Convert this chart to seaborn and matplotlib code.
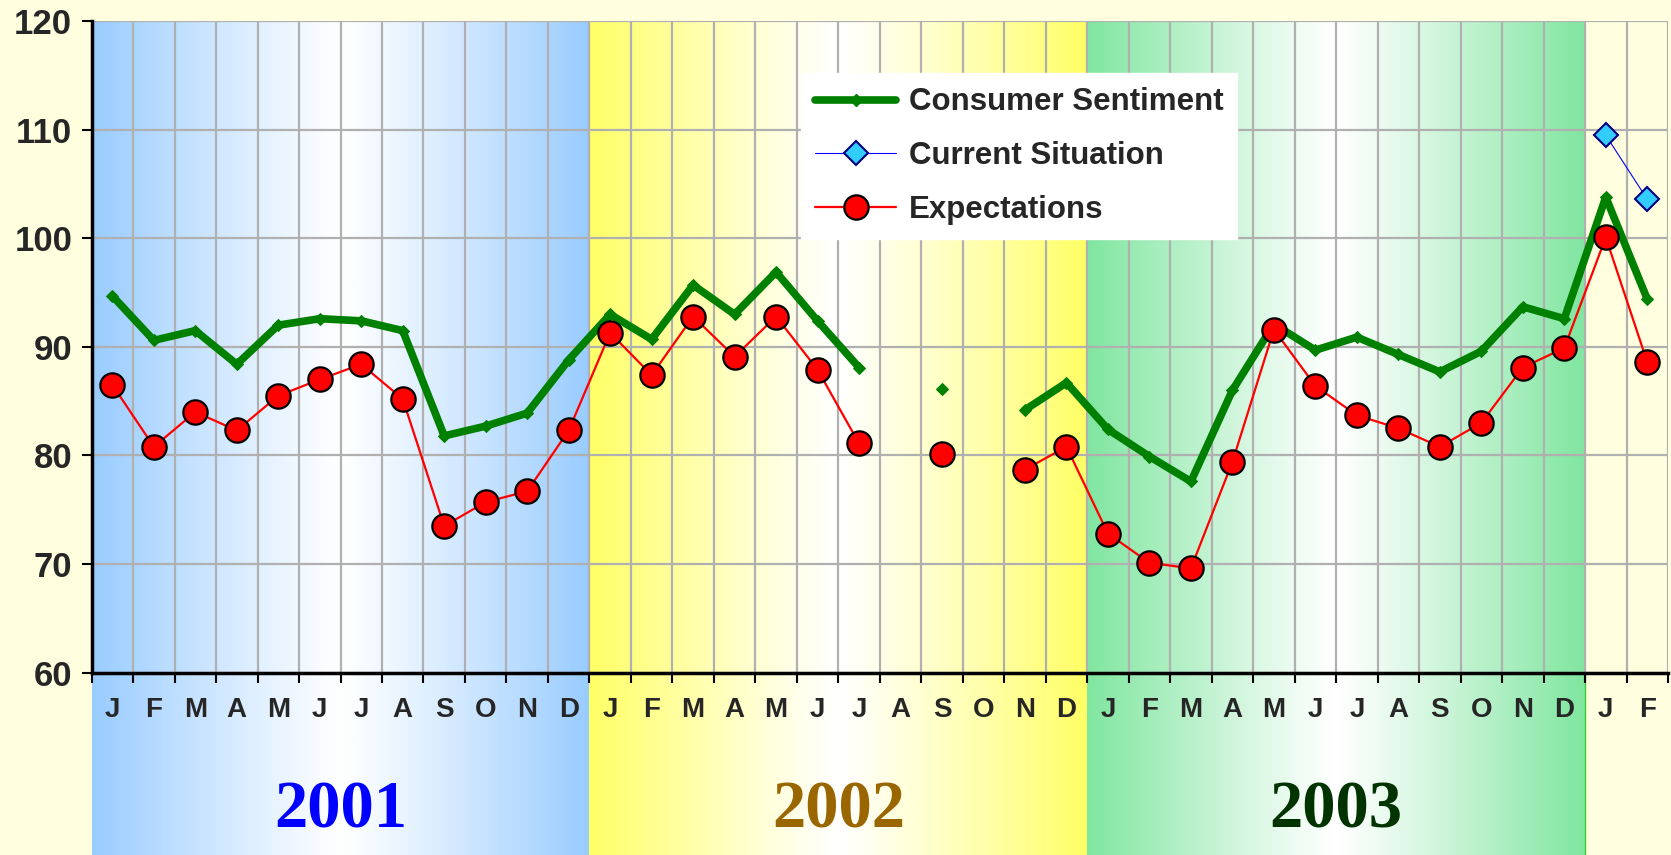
import numpy as np
import pandas as pd
import matplotlib
matplotlib.use("Agg")
import matplotlib.pyplot as plt
import matplotlib.font_manager as fm
import matplotlib.transforms as mtrans
from matplotlib.colors import LinearSegmentedColormap
from matplotlib.lines import Line2D
import seaborn as sns

# ---------------- data ----------------
month_labels = list("JFMAMJJASOND") * 3 + ["J", "F"]
years = ["2001", "2002", "2003"]
year_colors = ["#0000FF", "#996600", "#003300"]
band_colors = ["#99CCFF", "#FFFF66", "#80E6A0"]

nan = np.nan
sentiment = [94.7, 90.6, 91.5, 88.4, 92.0, 92.6, 92.4, 91.5, 81.8, 82.7, 83.9, 88.8,
             93.0, 90.7, 95.7, 93.0, 96.9, 92.4, 88.1, nan, 86.1, nan, 84.2, 86.7,
             82.4, 79.9, 77.6, 86.0, 92.1, 89.7, 90.9, 89.3, 87.7, 89.6, 93.7, 92.6,
             103.8, 94.4]
current = [nan] * 36 + [109.5, 103.6]
expectations = [86.5, 80.8, 84.0, 82.3, 85.5, 87.0, 88.4, 85.2, 73.5, 75.7, 76.7, 82.3,
                91.3, 87.4, 92.8, 89.1, 92.8, 87.9, 81.1, nan, 80.1, nan, 78.7, 80.8,
                72.8, 70.1, 69.6, 79.4, 91.6, 86.4, 83.7, 82.5, 80.8, 83.0, 88.1, 89.9,
                100.1, 88.6]
y_ticks = [60, 70, 80, 90, 100, 110, 120]

# ---------------- style ----------------
sns.set_theme(style="white")
names = {f.name for f in fm.fontManager.ttflist}
sans = "Liberation Sans" if "Liberation Sans" in names else "DejaVu Sans"
narrow = "Liberation Sans Narrow" if "Liberation Sans Narrow" in names else sans
serif = "Liberation Serif" if "Liberation Serif" in names else "DejaVu Serif"
plt.rcParams["font.family"] = [sans, "DejaVu Sans"]

BG = "#FFFFE0"
W, H = 1671, 855
fig = plt.figure(figsize=(W / 100, H / 100), dpi=100, facecolor=BG)
L, R = 91.6 / W, 1668 / W
B, T = (H - 672.5) / H, (H - 21.3) / H

# background gradient bands (extend below the plot area)
bg = fig.add_axes([L, 0, R - L, T], zorder=0)
bg.set_facecolor(BG)
grad = np.abs(np.linspace(-1, 1, 512)) ** 1.1
for i, c in enumerate(band_colors):
    x0 = -0.5 + 12 * i
    cm = LinearSegmentedColormap.from_list(f"b{i}", ["#FFFFFF", c])
    bg.imshow(grad[None, :], cmap=cm, vmin=0, vmax=1, aspect="auto",
              extent=[x0, x0 + 12, 0, 1], interpolation="bilinear")
bg.axvline(35.5, ymin=0, ymax=B / T, color="#33CC33", lw=1)
bg.set_xlim(-0.5, 37.5)
bg.set_ylim(0, 1)
bg.axis("off")

# main axes
ax = fig.add_axes([L, B, R - L, T - B], zorder=1)
ax.patch.set_alpha(0)

x = np.arange(len(month_labels))


def segments(vals):
    seg, out, cur = 0, [], False
    for v in vals:
        if np.isnan(v):
            if cur:
                seg += 1
            cur = False
        else:
            cur = True
        out.append(seg)
    return out


df = pd.DataFrame({"x": x, "sent": sentiment, "cur": current, "exp": expectations})
df["seg_s"] = segments(sentiment)
df["seg_c"] = segments(current)
df["seg_e"] = segments(expectations)

GREEN_LW = 5.5
sns.lineplot(data=df.dropna(subset=["sent"]), x="x", y="sent", units="seg_s",
             estimator=None, ax=ax, color="#008000", lw=GREEN_LW, marker="D",
             markersize=6, markeredgecolor="#008000", legend=False, zorder=4)
sns.lineplot(data=df.dropna(subset=["cur"]), x="x", y="cur", units="seg_c",
             estimator=None, ax=ax, color="#0000FF", lw=0.8, marker="D",
             markersize=12, markerfacecolor="#33CCFF", markeredgecolor="#000080",
             markeredgewidth=1.5, legend=False, zorder=5)
sns.lineplot(data=df.dropna(subset=["exp"]), x="x", y="exp", units="seg_e",
             estimator=None, ax=ax, color="#FF0000", lw=1.6, marker="o",
             markersize=17.5, markerfacecolor="#FF0000", markeredgecolor="#000000",
             markeredgewidth=1.6, legend=False, zorder=6)

ax.set_xlim(-0.5, 37.5)
ax.set_ylim(60, 120)
ax.set_xticks(np.arange(-0.5, 38, 1))
ax.set_xticklabels([])
ax.set_yticks(y_ticks)
ax.set_yticklabels([str(v) for v in y_ticks], fontsize=25, fontweight="bold")
ax.grid(True, color="#B0B0B0", lw=1.6, zorder=0)
ax.set_axisbelow(True)
ax.set_xlabel("")
ax.set_ylabel("")
for s in ["top", "right"]:
    ax.spines[s].set_visible(False)
for s in ["left", "bottom"]:
    ax.spines[s].set_color("black")
    ax.spines[s].set_linewidth(2.5)
ax.tick_params(axis="both", direction="out", length=7, width=1.5, color="black",
               bottom=True, left=True)
ax.tick_params(axis="y", pad=7)

trans = mtrans.blended_transform_factory(ax.transData, ax.transAxes)
for i, m in enumerate(month_labels):
    ax.text(i, -0.058, m, transform=trans, ha="center", va="center",
            fontsize=20, fontweight="bold", family=[narrow, "DejaVu Sans"])
for i, (yr, c) in enumerate(zip(years, year_colors)):
    ax.text(5.5 + 12 * i, -0.212, yr, transform=trans, ha="center", va="center",
            fontsize=48, fontweight="bold", color=c, family=[serif, "DejaVu Serif"])

handles = [
    Line2D([], [], color="#008000", lw=GREEN_LW, marker="D", markersize=6),
    Line2D([], [], color="#0000FF", lw=0.8, marker="D", markersize=12,
           markerfacecolor="#33CCFF", markeredgecolor="#000080", markeredgewidth=1.5),
    Line2D([], [], color="#FF0000", lw=1.6, marker="o", markersize=17.5,
           markerfacecolor="#FF0000", markeredgecolor="#000000", markeredgewidth=1.6),
]
leg = ax.legend(handles, ["Consumer Sentiment", "Current Situation", "Expectations"],
                loc="upper left", bbox_to_anchor=(0.45, 0.92), frameon=True,
                fancybox=False, facecolor="white", edgecolor="white", framealpha=1,
                prop={"size": 22.5, "weight": "bold"}, handlelength=2.6,
                labelspacing=0.76, borderpad=0.45, handletextpad=0.4, borderaxespad=0)
leg.set_zorder(10)

fig.savefig("out.png", dpi=100, facecolor=BG)
